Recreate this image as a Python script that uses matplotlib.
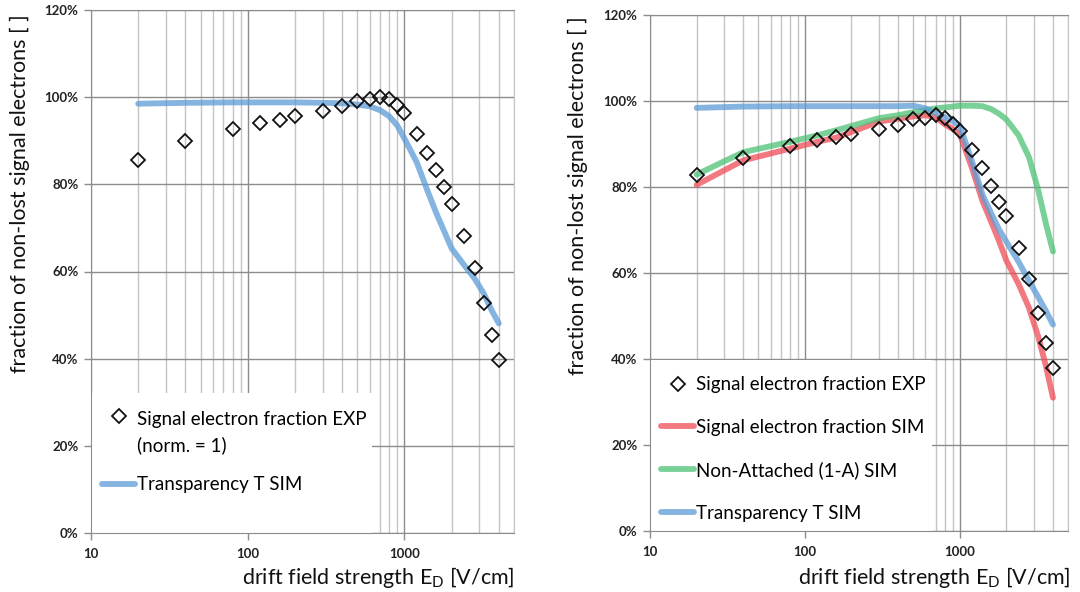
import matplotlib
matplotlib.use("Agg")
import matplotlib.pyplot as plt
from matplotlib.patches import Rectangle
from matplotlib.legend_handler import HandlerLine2D
from matplotlib.ticker import FixedLocator, NullFormatter, PercentFormatter, FuncFormatter

plt.rcParams['font.family'] = ['Lato', 'DejaVu Sans']
plt.rcParams['mathtext.fontset'] = 'custom'
plt.rcParams['mathtext.rm'] = 'Lato'

# drift field strength [V/cm]
field = [20, 40, 80, 120, 160, 200, 300, 400, 500, 600, 700, 800, 900, 1000,
         1200, 1400, 1600, 1800, 2000, 2400, 2800, 3200, 3600, 4000]

# left panel: fraction of non-lost signal electrons [%]
left_exp = [85.5, 89.9, 92.7, 94.0, 94.8, 95.6, 96.8, 97.9, 99.2, 99.6, 100.0, 99.6, 98.1, 96.4,
            91.6, 87.3, 83.2, 79.4, 75.6, 68.1, 60.8, 52.8, 45.5, 39.7]
left_transparency = [98.5, 98.7, 98.8, 98.8, 98.8, 98.8, 98.7, 98.6, 98.3, 97.9, 97.0, 95.6, 93.5, 90.5,
                     85.0, 78.6, 73.3, 69.1, 65.3, 61.5, 58.4, 55.0, 51.1, 48.1]

# right panel: fraction of non-lost signal electrons [%]
right_exp = [82.7, 86.8, 89.6, 91.0, 91.6, 92.4, 93.4, 94.5, 95.7, 96.1, 96.7, 96.1, 94.7, 93.0,
             88.5, 84.4, 80.2, 76.5, 73.2, 65.8, 58.5, 50.8, 43.8, 38.0]
right_signal_sim = [80.5, 86.2, 88.9, 90.5, 91.5, 92.8, 95.2, 95.9, 96.4, 96.7, 96.2, 94.6, 93.5, 92.3,
                    84.4, 76.8, 71.8, 67.3, 62.9, 57.4, 51.9, 45.4, 38.4, 31.0]
right_non_attached = [82.9, 88.1, 90.5, 92.0, 93.2, 94.2, 96.0, 96.7, 97.4, 97.9, 98.3, 98.5, 98.7, 98.9,
                      98.9, 98.8, 98.1, 97.0, 95.7, 92.0, 86.9, 79.5, 71.5, 65.0]
right_transparency = [98.4, 98.7, 98.8, 98.8, 98.8, 98.8, 98.8, 98.8, 98.9, 98.3, 97.2, 96.2, 95.3, 94.3,
                      86.0, 78.3, 73.8, 70.0, 67.3, 62.6, 58.2, 54.5, 51.2, 48.0]

x_ticks = [10, 100, 1000]
x_ticklabels = ['10', '100', '1000']
y_ticks = [0, 20, 40, 60, 80, 100, 120]

BLUE = '#5b9bd5'
RED = '#ef4c56'
GREEN = '#4cc276'
MAJOR_GRID = '#8c8c8c'
MINOR_GRID = '#c4c4c4'
LINE_ALPHA = 0.75
LW = 4.2
LEGEND_FS = 13.5
LABEL_FS = 15.5

minor_x = [m * d for d in (10, 100, 1000) for m in range(2, 10) if m * d <= 5000]


class RaisedMarkerHandler(HandlerLine2D):
    """Legend handler that lifts the marker to sit beside the first line of a two-line label."""

    def __init__(self, dy, **kwargs):
        super().__init__(**kwargs)
        self.dy = dy

    def create_artists(self, legend, orig_handle, xdescent, ydescent, width, height, fontsize, trans):
        return super().create_artists(legend, orig_handle, xdescent, ydescent - self.dy,
                                      width, height, fontsize, trans)


def style_axes(ax):
    ax.set_xscale('log')
    ax.set_xlim(10, 5000)
    ax.set_ylim(0, 120)
    ax.set_axisbelow(True)
    ax.xaxis.set_major_locator(FixedLocator(x_ticks))
    ax.xaxis.set_major_formatter(FuncFormatter(
        lambda v, p: x_ticklabels[x_ticks.index(round(v))] if round(v) in x_ticks else ''))
    ax.xaxis.set_minor_locator(FixedLocator(minor_x))
    ax.xaxis.set_minor_formatter(NullFormatter())
    ax.yaxis.set_major_locator(FixedLocator(y_ticks))
    ax.yaxis.set_major_formatter(PercentFormatter(100, decimals=0))
    ax.grid(which='major', axis='both', color=MAJOR_GRID, lw=1.0)
    ax.grid(which='minor', axis='x', color=MINOR_GRID, lw=1.0)
    ax.tick_params(which='major', direction='out', length=5, width=1, color=MAJOR_GRID,
                   labelsize=9.5, labelcolor='#222222')
    ax.tick_params(axis='x', which='major', pad=6)
    ax.tick_params(axis='y', which='major', pad=4)
    ax.tick_params(which='minor', length=0)
    for lab in ax.get_xticklabels() + ax.get_yticklabels():
        lab.set_fontweight('bold')
    for side in ('left', 'bottom', 'top'):
        ax.spines[side].set_color(MAJOR_GRID)
    ax.spines['right'].set_color(MINOR_GRID)


fig = plt.figure(figsize=(10.8, 5.92), dpi=100)
W, H = 1080, 592


def px_axes(x0, x1, y_top, y_bot):
    return fig.add_axes([x0 / W, (H - y_bot) / H, (x1 - x0) / W, (y_bot - y_top) / H])


ax_l = px_axes(91, 514, 10, 533)
ax_r = px_axes(650, 1068, 15, 531)

for ax in (ax_l, ax_r):
    style_axes(ax)

# left panel
ax_l.add_patch(Rectangle((0, 0), 0.664, 0.268, transform=ax_l.transAxes,
                         facecolor='white', edgecolor='none', zorder=1))
h_exp_l, = ax_l.plot(field, left_exp, ls='none', marker='D', ms=7.5, mfc='none',
                     mec='#111111', mew=1.3, zorder=4)
h_tr_l, = ax_l.plot(field, left_transparency, color=BLUE, lw=LW, alpha=LINE_ALPHA,
                    solid_capstyle='round', solid_joinstyle='round', zorder=3)
leg_l = ax_l.legend([h_exp_l, h_tr_l], ['Signal electron fraction EXP\n(norm. = 1)', 'Transparency T SIM'],
                    loc='upper left', bbox_to_anchor=(0.0, 0.255), frameon=False, fontsize=LEGEND_FS,
                    handlelength=1.75, handletextpad=0.12, labelspacing=1.2, borderaxespad=0.2,
                    handler_map={h_exp_l: RaisedMarkerHandler(25)})
for t in leg_l.get_texts():
    t.set_linespacing(1.55)

# right panel
ax_r.add_patch(Rectangle((0, 0), 0.674, 0.331, transform=ax_r.transAxes,
                         facecolor='white', edgecolor='none', zorder=1))
h_exp_r, = ax_r.plot(field, right_exp, ls='none', marker='D', ms=7.5, mfc='none',
                     mec='#111111', mew=1.3, zorder=5)
h_sig, = ax_r.plot(field, right_signal_sim, color=RED, lw=LW, alpha=LINE_ALPHA,
                   solid_capstyle='round', solid_joinstyle='round', zorder=2)
h_na, = ax_r.plot(field, right_non_attached, color=GREEN, lw=LW, alpha=LINE_ALPHA,
                  solid_capstyle='round', solid_joinstyle='round', zorder=3)
h_tr_r, = ax_r.plot(field, right_transparency, color=BLUE, lw=LW, alpha=LINE_ALPHA,
                    solid_capstyle='round', solid_joinstyle='round', zorder=4)
ax_r.legend([h_exp_r, h_sig, h_na, h_tr_r],
            ['Signal electron fraction EXP', 'Signal electron fraction SIM',
             'Non-Attached (1-A) SIM', 'Transparency T SIM'],
            loc='upper left', bbox_to_anchor=(0.0, 0.322), frameon=False, fontsize=LEGEND_FS,
            handlelength=1.75, handletextpad=0.12, labelspacing=1.36, borderaxespad=0.2)

ylabel = 'fraction of non-lost signal electrons [ ]'
xlabel = r'drift field strength E$_\mathregular{D}$ [V/cm]'
fig.text(20 / W, 1 - 194 / H, ylabel, rotation=90, ha='center', va='center', fontsize=LABEL_FS, color='#111111')
fig.text(578 / W, 1 - 196 / H, ylabel, rotation=90, ha='center', va='center', fontsize=LABEL_FS, color='#111111')
fig.text(515 / W, 1 - 577 / H, xlabel, ha='right', va='center', fontsize=LABEL_FS, color='#111111')
fig.text(1071 / W, 1 - 577 / H, xlabel, ha='right', va='center', fontsize=LABEL_FS, color='#111111')

fig.savefig('out.png', dpi=100)
